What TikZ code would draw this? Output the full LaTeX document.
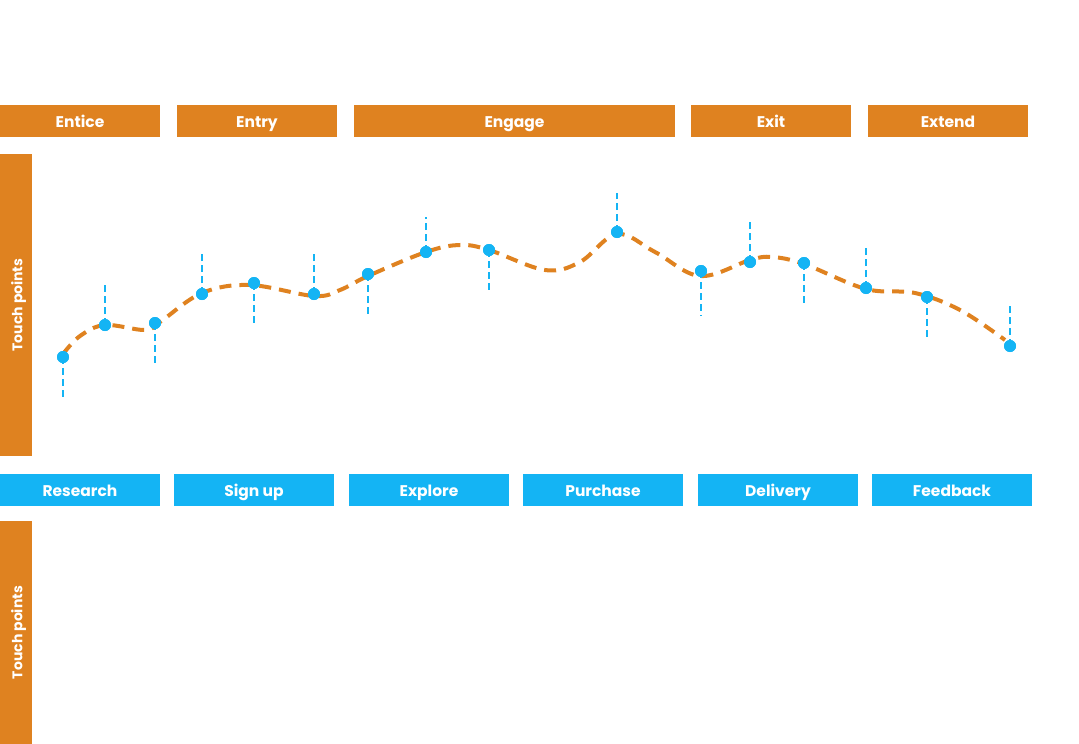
\documentclass[tikz,border=0pt]{standalone}
\usepackage{fontspec}
\setmainfont{Poppins}
\definecolor{org}{HTML}{DF8220}
\definecolor{blu}{HTML}{14B4F4}
\begin{document}
\begin{tikzpicture}[x=1pt,y=-1pt,
  stage/.style={fill=org,text=white,inner sep=0pt,minimum height=32pt,text height=13.5pt,text depth=0pt,font=\fontsize{15.5}{17}\selectfont\bfseries},
  act/.style={fill=blu,text=white,inner sep=0pt,minimum height=32pt,minimum width=160pt,text height=13.5pt,text depth=0pt,font=\fontsize{15.5}{17}\selectfont\bfseries},
  side/.style={fill=org,inner sep=0pt,minimum width=32pt},
  sidelabel/.style={text=white,rotate=90,text height=11pt,text depth=3.5pt,inner sep=0pt,font=\fontsize{14}{16}\selectfont\bfseries},
  dot/.style={circle,fill=blu,inner sep=0pt,minimum size=12pt},
  tick/.style={draw=blu,line width=2.4pt,dash pattern=on 7pt off 4pt},
  journey/.style={draw=org,line width=4pt,dash pattern=on 12pt off 8pt}]
\useasboundingbox (0,0) rectangle (1079,744);
% stage headers
\node[stage,minimum width=160pt] (entice) at (80,121) {Entice};
\node[stage,minimum width=160pt] (entry) at (257,121) {Entry};
\node[stage,minimum width=321pt] (engage) at (514.5,121) {Engage};
\node[stage,minimum width=160pt] (exit) at (771,121) {Exit};
\node[stage,minimum width=160pt] (extend) at (948,121) {Extend};
% side bars
\node[side,minimum height=302pt] (bar1) at (16,305) {};
\node[sidelabel] (lab1) at (18.5,305) {Touch points};
\node[side,minimum height=223pt] (bar2) at (16,632.5) {};
\node[sidelabel] (lab2) at (18.5,632.5) {Touch points};
% activity boxes
\node[act] (research) at (80,490) {Research};
\node[act] (signup) at (254,490) {Sign up};
\node[act] (explore) at (429,490) {Explore};
\node[act] (purchase) at (603,490) {Purchase};
\node[act] (delivery) at (778,490) {Delivery};
\node[act] (feedback) at (952,490) {Feedback};
% journey curve
\draw[journey] plot[smooth,tension=0.6] coordinates {(63,354) (80,336) (105,325) (145,330) (160,322) (202,293) (250,285) (314,296) (340,290) (368,276) (426,252) (460,245) (489,250) (545,270) (580,262) (617,234) (655,252) (700,276) (750,260) (772,257) (804,264) (866,289) (915,293) (960,310) (1005,340)};
% touch point ticks
\coordinate (t1) at (63,398);
\coordinate (t2) at (105,282);
\coordinate (t3) at (155,364);
\coordinate (t4) at (202,254);
\coordinate (t5) at (254,325);
\coordinate (t6) at (314,254);
\coordinate (t7) at (368,315);
\coordinate (t8) at (426,217);
\coordinate (t9) at (489,291);
\coordinate (t10) at (617,193);
\coordinate (t11) at (701,316);
\coordinate (t12) at (750,222);
\coordinate (t13) at (804,303);
\coordinate (t14) at (866,247);
\coordinate (t15) at (927,338);
\coordinate (t16) at (1010,304);
\foreach \i/\x/\y in {1/63/357,2/105/325,3/155/323,4/202/294,5/254/283,6/314/294,7/368/274,8/426/252,9/489/250,10/617/232,11/701/271,12/750/262,13/804/263,14/866/288,15/927/297,16/1010/346}{
  \node[dot] (d\i) at (\x,\y) {};
  \draw[tick] (d\i.center) -- (t\i);
  \node[dot] at (d\i) {};
}
\end{tikzpicture}
\end{document}
